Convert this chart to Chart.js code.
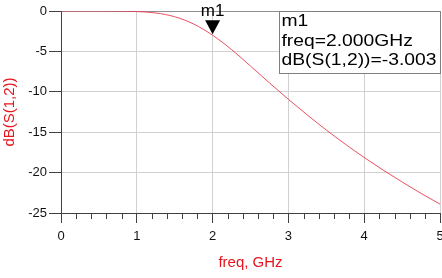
<!DOCTYPE html>
<html>
<head>
<meta charset="utf-8">
<script src="https://cdn.jsdelivr.net/npm/chart.js@4.4.0/dist/chart.umd.min.js"></script>
<style>
  html, body { margin: 0; padding: 0; background: #fff; }
  canvas { display: block; }
</style>
</head>
<body>
<canvas id="myChart" width="442" height="278"></canvas>
<script>
// freq in GHz
const freqGHz = [0, 0.25, 0.5, 0.75, 1, 1.25, 1.5, 1.75, 2, 2.25, 2.5, 2.75, 3, 3.25, 3.5, 3.75, 4, 4.25, 4.5, 4.75, 5];
const dbS12 = [0, 0, 0, -0.01, -0.07, -0.24, -0.71, -1.61, -3.0, -4.77, -6.82, -8.9, -10.93, -12.87, -14.73, -16.48, -18.13, -19.69, -21.16, -22.57, -23.9];

const markerName = 'm1';
const markerFreq = 2.0;
const markerValue = -3.003;
const markerLines = ['m1', 'freq=2.000GHz', 'dB(S(1,2))=-3.003'];

const red = '#e8141e';
const font = 'Liberation Sans, Arial, sans-serif';

const adsExtras = {
  id: 'ads-extras',
  afterDraw: (chart) => {
    const ctx = chart.ctx;
    const xs = chart.scales.x;
    const ys = chart.scales.y;
    const area = chart.chartArea;
    ctx.save();

    // minor ticks on the freq axis
    ctx.strokeStyle = '#404040';
    ctx.lineWidth = 1;
    ctx.beginPath();
    for (let i = 0; i <= 25; i++) {
      if (i % 5 === 0) continue;
      const px = Math.round(xs.getPixelForValue(i * 0.2)) + 0.5;
      ctx.moveTo(px, area.bottom);
      ctx.lineTo(px, area.bottom + 6);
    }
    ctx.stroke();

    // marker triangle + label
    const mx = xs.getPixelForValue(markerFreq);
    const my = ys.getPixelForValue(markerValue) - 1;
    ctx.fillStyle = '#000';
    ctx.beginPath();
    ctx.moveTo(mx, my);
    ctx.lineTo(mx - 7.5, my - 14);
    ctx.lineTo(mx + 7.5, my - 14);
    ctx.closePath();
    ctx.fill();
    ctx.font = '17px ' + font;
    ctx.textAlign = 'center';
    ctx.textBaseline = 'middle';
    ctx.fillText(markerName, mx, my - 23);

    // marker readout box
    const bw = 161, bh = 62;
    const bx = Math.round(area.right) - bw + 0.5;
    const by = Math.round(area.top) + 0.5;
    ctx.fillStyle = '#fff';
    ctx.fillRect(bx, by, bw, bh);
    ctx.strokeStyle = '#808080';
    ctx.strokeRect(bx, by, bw, bh);
    ctx.fillStyle = '#000';
    ctx.textAlign = 'left';
    markerLines.forEach((t, i) => {
      ctx.save();
      ctx.translate(bx + 2, by + 10 + i * 19.5);
      ctx.scale(1.135, 1);
      ctx.fillText(t, 0, 0);
      ctx.restore();
    });
    ctx.restore();
  }
};

const configuration = {
  type: 'line',
  data: {
    datasets: [{
      label: 'dB(S(1,2))',
      data: freqGHz.map((f, i) => ({ x: f, y: dbS12[i] })),
      borderColor: 'rgba(232, 60, 80, 0.9)',
      borderWidth: 1,
      pointRadius: 0,
      cubicInterpolationMode: 'monotone',
      fill: false
    }]
  },
  options: {
    responsive: false,
    animation: false,
    layout: { padding: { top: 11, right: 2, left: 0, bottom: 0 } },
    plugins: { legend: { display: false }, tooltip: { enabled: false } },
    scales: {
      x: {
        type: 'linear',
        min: 0,
        max: 5,
        afterFit: (scale) => { scale.height = 65; scale.paddingLeft = 0; scale.paddingRight = 0; },
        ticks: { stepSize: 1, padding: 6, color: '#111', font: { family: font, size: 13 }, maxRotation: 0 },
        grid: { color: '#d0d0d0', tickColor: '#404040', tickLength: 10 },
        border: { color: '#404040', width: 1 },
        title: { display: true, text: 'freq, GHz', color: red, font: { family: font, size: 15 }, padding: { top: 0, bottom: 6 } }
      },
      y: {
        min: -25,
        max: 0,
        afterFit: (scale) => { scale.width = 61; scale.paddingTop = 0; scale.paddingBottom = 0; },
        ticks: { stepSize: 5, padding: 2, color: '#111', font: { family: font, size: 13 } },
        grid: { color: (c) => c.tick && c.tick.value === 0 ? '#909090' : '#d0d0d0', tickColor: '#404040', tickLength: 12 },
        border: { color: '#404040', width: 1 },
        title: { display: true, text: 'dB(S(1,2))', color: red, font: { family: font, size: 15 }, padding: { top: 1, bottom: 0 } }
      }
    }
  },
  plugins: [adsExtras]
};

const chart = new Chart(document.getElementById('myChart'), configuration);
</script>
</body>
</html>
